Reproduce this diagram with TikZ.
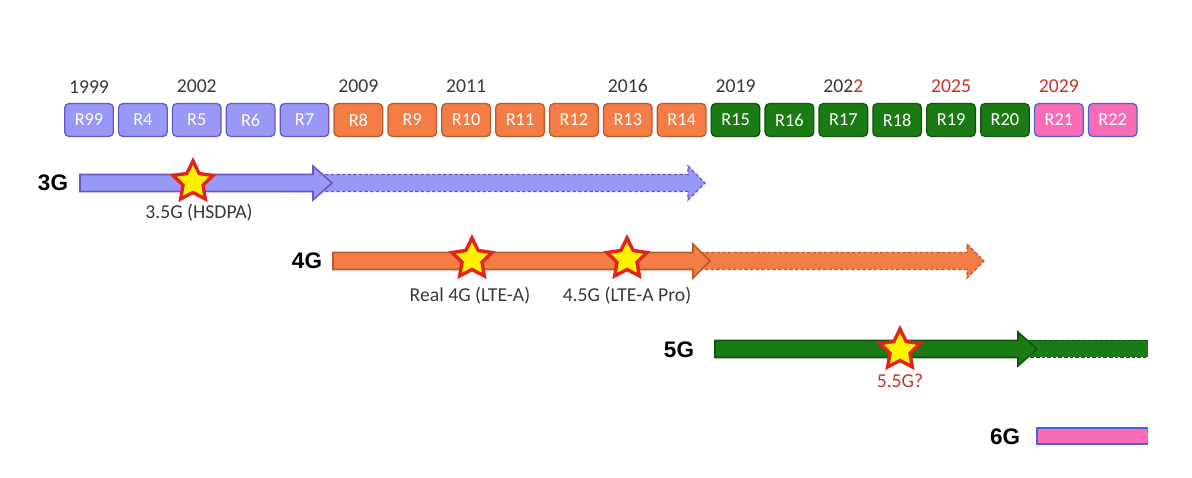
\documentclass[tikz,border=0pt]{standalone}
\usepackage{fontspec}
\setmainfont{Carlito}
\newfontfamily\genfont{Liberation Sans}
\usetikzlibrary{positioning,shapes.geometric}
\definecolor{Ink}{HTML}{383838}
\definecolor{Alert}{HTML}{C8322C}
\definecolor{UmtsFill}{HTML}{9A98F6}
\definecolor{UmtsEdge}{HTML}{6A55C8}
\definecolor{LteFill}{HTML}{F47C45}
\definecolor{LteEdge}{HTML}{B95A2B}
\definecolor{NrFill}{HTML}{1B7A14}
\definecolor{NrEdge}{HTML}{0E560C}
\definecolor{SixFill}{HTML}{F86CB6}
\definecolor{SixEdge}{HTML}{4C62D4}
\definecolor{StarFill}{HTML}{FFF200}
\definecolor{StarEdge}{HTML}{E3221B}
\tikzset{
  release/.style={rounded corners=3pt, line width=0.9pt, minimum width=1.215cm, minimum height=0.82cm,
    inner sep=0pt, text=white, font=\fontsize{13}{15}\selectfont},
  rel3g/.style={release, draw=UmtsEdge, fill=UmtsFill},
  rel4g/.style={release, draw=LteEdge, fill=LteFill},
  rel5g/.style={release, draw=NrEdge, fill=NrFill},
  rel6g/.style={release, draw=SixEdge, fill=SixFill},
  year/.style={font=\fontsize{14}{16}\selectfont, text=Ink, inner sep=0pt},
  span/.style={line width=1.1pt, line join=miter},
  ghost/.style={line width=0.9pt, dash pattern=on 2.5pt off 1.5pt},
  burst/.style={star, star points=5, star point ratio=2.0, minimum size=1.05cm, inner sep=0pt,
    fill=StarFill, draw=StarEdge, line width=2.4pt},
  note/.style={font=\fontsize{14}{16}\selectfont, text=Ink, inner sep=0pt},
  gen/.style={font=\genfont\bfseries\fontsize{16}{18}\selectfont, text=black, inner sep=0pt},
}

\begin{document}
\begin{tikzpicture}[x=0.025cm, y=-0.025cm, node distance=1mm]
  \useasboundingbox (0,0) rectangle (1192,478);

  % Release strip, one box after another.
  \node[rel3g] (r99) at (89,120) {R99};
  \node[rel3g, right=of r99] (r4) {R4};
  \node[rel3g, right=of r4] (r5) {R5};
  \node[rel3g, right=of r5] (r6) {R6};
  \node[rel3g, right=of r6] (r7) {R7};
  \node[rel4g, right=of r7] (r8) {R8};
  \node[rel4g, right=of r8] (r9) {R9};
  \node[rel4g, right=of r9] (r10) {R10};
  \node[rel4g, right=of r10] (r11) {R11};
  \node[rel4g, right=of r11] (r12) {R12};
  \node[rel4g, right=of r12] (r13) {R13};
  \node[rel4g, right=of r13] (r14) {R14};
  \node[rel5g, right=of r14] (r15) {R15};
  \node[rel5g, right=of r15] (r16) {R16};
  \node[rel5g, right=of r16] (r17) {R17};
  \node[rel5g, right=of r17] (r18) {R18};
  \node[rel5g, right=of r18] (r19) {R19};
  \node[rel5g, right=of r19] (r20) {R20};
  \node[rel6g, right=of r20] (r21) {R21};
  \node[rel6g, right=of r21] (r22) {R22};

  % Years sit over their release.
  \node[year, above=2.4mm of r99] (y1999) {1999};
  \node[year, above=2.4mm of r5] (y2002) {2002};
  \node[year, above=2.4mm of r8] (y2009) {2009};
  \node[year, above=2.4mm of r10] (y2011) {2011};
  \node[year, above=2.4mm of r13] (y2016) {2016};
  \node[year, above=2.4mm of r15] (y2019) {2019};
  \node[year, above=2.4mm of r17] (y2022) {202\textcolor{Alert}{2}};
  \node[year, above=2.4mm of r19, text=Alert] (y2025) {2025};
  \node[year, above=2.4mm of r21, text=Alert] (y2029) {2029};

  % 3G lifetime: planned part first, deployed part on top.
  \draw[ghost, draw=UmtsEdge, fill=UmtsFill] (280,174.5) -- (688,174.5) -- (688,166) -- (705,183)
    -- (688,200) -- (688,191.5) -- (280,191.5) -- cycle;
  \draw[span, draw=UmtsEdge, fill=UmtsFill] (80,174.5) -- (313,174.5) -- (313,166) -- (332,183)
    -- (313,200) -- (313,191.5) -- (80,191.5) -- cycle;
  \node[gen] (g3) at (53,183) {3G};
  \node[burst] (s35) at (193,182) {};
  \node[note] (n35) at (199,213) {3.5G (HSDPA)};

  % 4G lifetime.
  \draw[ghost, draw=LteEdge, fill=LteFill] (700,252.5) -- (967,252.5) -- (967,244) -- (984,261)
    -- (967,278) -- (967,269.5) -- (700,269.5) -- cycle;
  \draw[span, draw=LteEdge, fill=LteFill] (333,252.5) -- (693,252.5) -- (693,244) -- (710,261)
    -- (693,278) -- (693,269.5) -- (333,269.5) -- cycle;
  \node[gen] (g4) at (307,261) {4G};
  \node[burst] (s4) at (472,259) {};
  \node[burst] (s45) at (627,259) {};
  \node[note] (n4) at (470,296) {Real 4G (LTE-A)};
  \node[note] (n45) at (627,296) {4.5G (LTE-A Pro)};

  % 5G lifetime, running off the page.
  \draw[ghost, draw=NrEdge, fill=NrFill] (1148,340.5) -- (853,340.5) -- (853,357.5) -- (1148,357.5);
  \draw[span, draw=NrEdge, fill=NrFill] (715,340.5) -- (1018,340.5) -- (1018,332) -- (1037,349)
    -- (1018,366) -- (1018,357.5) -- (715,357.5) -- cycle;
  \node[gen] (g5) at (679,350) {5G};
  \node[burst] (s55) at (900,350) {};
  \node[note, text=Alert] (n55) at (900,381) {5.5G?};

  % 6G just starting.
  \draw[span, line width=1.6pt, draw=SixEdge, fill=SixFill] (1148,428) -- (1037,428) -- (1037,444) -- (1148,444);
  \node[gen] (g6) at (1005,437) {6G};
\end{tikzpicture}
\end{document}
